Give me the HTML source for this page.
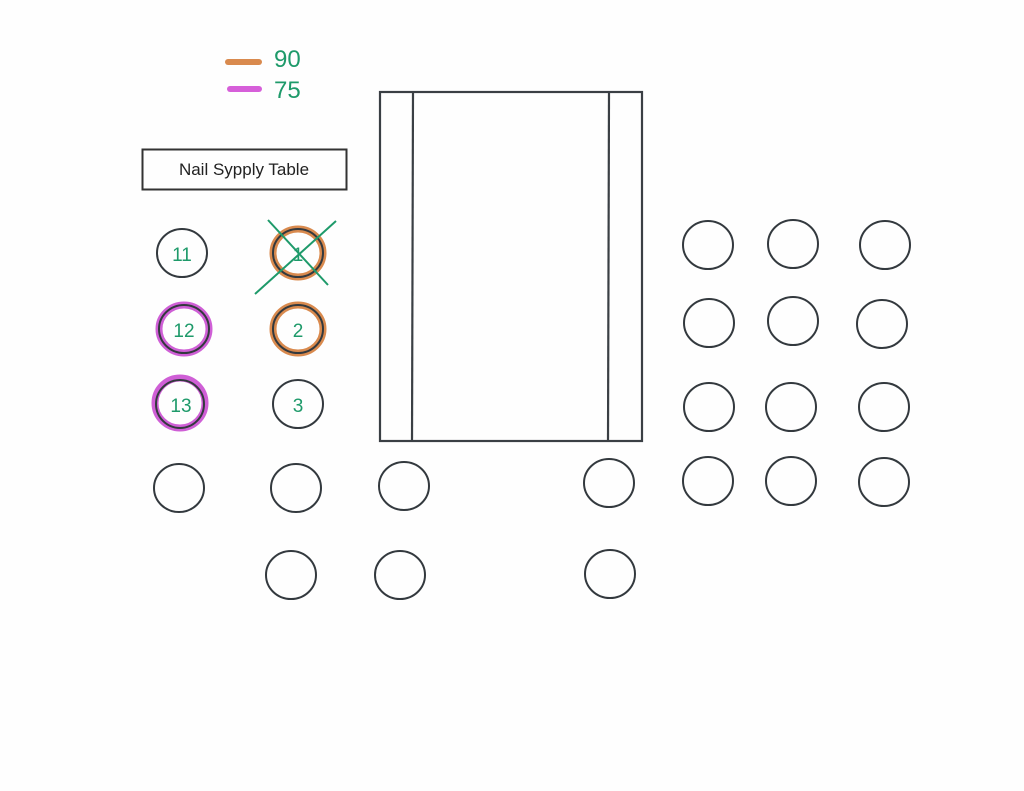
<!DOCTYPE html>
<html><head><style>html,body{margin:0;padding:0;background:#fff}svg{display:block}</style></head>
<body>
<svg width="1024" height="791" xmlns="http://www.w3.org/2000/svg">
<rect width="1024" height="791" fill="#fefefe"/>
<!-- legend -->
<line x1="228" y1="62" x2="259" y2="62" stroke="#d98a4e" stroke-width="6" stroke-linecap="round"/>
<line x1="230" y1="89" x2="259" y2="89" stroke="#d65fd9" stroke-width="6" stroke-linecap="round"/>
<text x="274" y="67" font-family="Liberation Sans, sans-serif" font-size="24" fill="#1e9a6a">90</text>
<text x="274" y="98" font-family="Liberation Sans, sans-serif" font-size="24" fill="#1e9a6a">75</text>
<!-- label box -->
<rect x="142.5" y="149.5" width="204" height="40" fill="none" stroke="#333" stroke-width="2"/>
<text x="244" y="175" text-anchor="middle" font-family="Liberation Sans, sans-serif" font-size="17" fill="#222">Nail Sypply Table</text>
<!-- table -->
<rect x="380" y="92" width="262" height="349" fill="none" stroke="#3a3f44" stroke-width="2.2"/>
<line x1="413" y1="92" x2="412" y2="441" stroke="#3a3f44" stroke-width="2.2"/>
<line x1="609" y1="92" x2="608" y2="441" stroke="#3a3f44" stroke-width="2.2"/>
<!-- highlights -->
<g fill="none" stroke-width="7">
<ellipse cx="298" cy="253" rx="25" ry="24" stroke="#d98a4e"/>
<ellipse cx="298" cy="329" rx="25" ry="24" stroke="#d98a4e"/>
<ellipse cx="184" cy="329" rx="25" ry="24" stroke="#cf5fd6"/>
<ellipse cx="180" cy="403" rx="25" ry="25" stroke="#cf5fd6"/>
</g>
<g fill="none" stroke="#33393e" stroke-width="2">
<ellipse cx="182" cy="253" rx="25" ry="24"/>
<ellipse cx="298" cy="253" rx="25" ry="24"/>
<ellipse cx="184" cy="329" rx="25" ry="24"/>
<ellipse cx="298" cy="329" rx="25" ry="24"/>
<ellipse cx="180" cy="404" rx="24" ry="24"/>
<ellipse cx="298" cy="404" rx="25" ry="24"/>
<ellipse cx="179" cy="488" rx="25" ry="24"/>
<ellipse cx="296" cy="488" rx="25" ry="24"/>
<ellipse cx="404" cy="486" rx="25" ry="24"/>
<ellipse cx="609" cy="483" rx="25" ry="24"/>
<ellipse cx="291" cy="575" rx="25" ry="24"/>
<ellipse cx="400" cy="575" rx="25" ry="24"/>
<ellipse cx="610" cy="574" rx="25" ry="24"/>
<ellipse cx="708" cy="245" rx="25" ry="24"/>
<ellipse cx="793" cy="244" rx="25" ry="24"/>
<ellipse cx="885" cy="245" rx="25" ry="24"/>
<ellipse cx="709" cy="323" rx="25" ry="24"/>
<ellipse cx="793" cy="321" rx="25" ry="24"/>
<ellipse cx="882" cy="324" rx="25" ry="24"/>
<ellipse cx="709" cy="407" rx="25" ry="24"/>
<ellipse cx="791" cy="407" rx="25" ry="24"/>
<ellipse cx="884" cy="407" rx="25" ry="24"/>
<ellipse cx="708" cy="481" rx="25" ry="24"/>
<ellipse cx="791" cy="481" rx="25" ry="24"/>
<ellipse cx="884" cy="482" rx="25" ry="24"/>
</g>
<!-- X -->
<g stroke="#1e9a6a" stroke-width="2">
<line x1="336" y1="221" x2="255" y2="294"/>
<line x1="268" y1="220" x2="328" y2="285"/>
</g>
<g font-family="Liberation Sans, sans-serif" font-size="19" fill="#1e9a6a" text-anchor="middle">
<text x="182" y="261">11</text>
<text x="298" y="261">1</text>
<text x="184" y="337">12</text>
<text x="298" y="337">2</text>
<text x="181" y="412">13</text>
<text x="298" y="412">3</text>
</g>
</svg>
</body></html>
